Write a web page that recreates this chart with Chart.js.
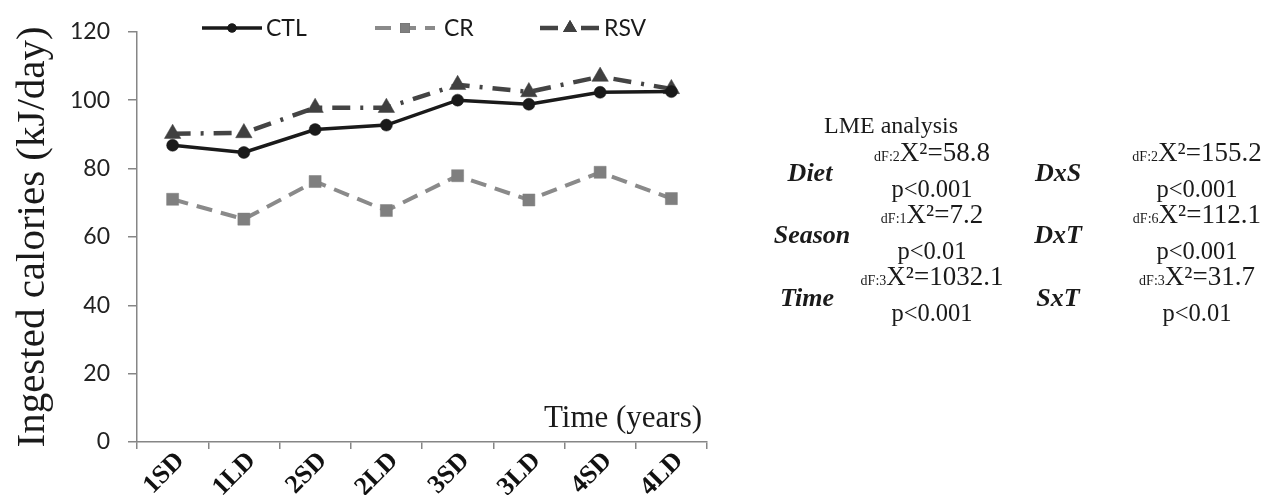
<!DOCTYPE html>
<html>
<head>
<meta charset="utf-8">
<script src="https://cdn.jsdelivr.net/npm/chart.js@4.4.1/dist/chart.umd.min.js"></script>
<style>
  body { margin: 0; background: #fff; }
  #wrap { position: relative; width: 1266px; height: 495px; }
  .txt { position: absolute; font-family: "Liberation Serif", "Times New Roman", serif; color: #1a1a1a; white-space: nowrap; transform: translate(-50%, -50%); }
  .lab { font-weight: bold; font-style: italic; font-size: 26px; }
  .val { font-size: 24.5px; text-align: center; line-height: 32px; }
  .val .top { font-size: 27px; }
  .val small { font-size: 14px; }
</style>
</head>
<body>
<div id="wrap">
  <canvas id="myChart" width="1266" height="495"></canvas>
  <div class="txt" style="left:623px; top:417px; font-size:31px;">Time (years)</div>
  <div class="txt" style="left:891px; top:125px; font-size:24px;">LME analysis</div>

  <div class="txt lab" style="left:810px; top:173px;">Diet</div>
  <div class="txt val" style="left:932px; top:170px;"><span class="top"><small>dF:2</small>X²=58.8</span><br>p&lt;0.001</div>
  <div class="txt lab" style="left:812px; top:235px;">Season</div>
  <div class="txt val" style="left:932px; top:232px;"><span class="top"><small>dF:1</small>X²=7.2</span><br>p&lt;0.01</div>
  <div class="txt lab" style="left:807px; top:298px;">Time</div>
  <div class="txt val" style="left:932px; top:294px;"><span class="top"><small>dF:3</small>X²=1032.1</span><br>p&lt;0.001</div>

  <div class="txt lab" style="left:1058px; top:173px;">DxS</div>
  <div class="txt val" style="left:1197px; top:170px;"><span class="top"><small>dF:2</small>X²=155.2</span><br>p&lt;0.001</div>
  <div class="txt lab" style="left:1058px; top:235px;">DxT</div>
  <div class="txt val" style="left:1197px; top:232px;"><span class="top"><small>dF:6</small>X²=112.1</span><br>p&lt;0.001</div>
  <div class="txt lab" style="left:1058px; top:298px;">SxT</div>
  <div class="txt val" style="left:1197px; top:294px;"><span class="top"><small>dF:3</small>X²=31.7</span><br>p&lt;0.01</div>
</div>
<script>
// data
var timePoints = ["1SD", "1LD", "2SD", "2LD", "3SD", "3LD", "4SD", "4LD"];
var ctlValues = [86.8, 84.7, 91.4, 92.7, 100.0, 98.8, 102.3, 102.5];
var crValues = [71.0, 65.2, 76.2, 67.7, 77.9, 70.8, 78.9, 71.2];
var rsvValues = [90.2, 90.4, 97.8, 97.8, 104.5, 102.4, 106.9, 103.3];
var yTicks = [0, 20, 40, 60, 80, 100, 120];

var axisGray = "#868686";

// legend: line + marker + label, like the office style legend
var legendX = [202, 375, 540];
var legendMarker = [4.5, 7, 8];
var legendPlugin = {
  id: "lineLegend",
  afterDraw: function(chart) {
    var ctx = chart.ctx;
    var y = 28;
    chart.data.datasets.forEach(function(ds, i) {
      var x0 = legendX[i];
      var len = 60;
      ctx.save();
      ctx.strokeStyle = ds.borderColor;
      ctx.lineWidth = ds.borderWidth;
      ctx.setLineDash(ds.borderDash || []);
      ctx.beginPath();
      ctx.moveTo(x0, y);
      ctx.lineTo(x0 + len, y);
      ctx.stroke();
      ctx.setLineDash([]);
      Chart.helpers.drawPoint(ctx, {
        pointStyle: ds.pointStyle,
        radius: legendMarker[i],
        borderWidth: 0
      }, x0 + len / 2, y);
      ctx.fillStyle = ds.pointBackgroundColor;
      ctx.fill();
      ctx.fillStyle = "#1a1a1a";
      ctx.font = "23px Lato";
      ctx.textBaseline = "middle";
      ctx.fillText(ds.label, x0 + len + 4 + (i == 1 ? 5 : 0), y + 1);
      ctx.restore();
    });
  }
};

var ctx = document.getElementById("myChart").getContext("2d");
var chart = new Chart(ctx, {
  type: "line",
  data: {
    labels: timePoints,
    datasets: [
      {
        label: "CTL",
        data: ctlValues,
        borderColor: "#1a1a1a",
        borderWidth: 3.5,
        pointStyle: "circle",
        pointRadius: 6,
        pointBorderWidth: 0.5,
        pointBackgroundColor: "#1a1a1a",
        pointBorderColor: "#1a1a1a",
        tension: 0
      },
      {
        label: "CR",
        data: crValues,
        borderColor: "#8a8a8a",
        borderWidth: 4,
        borderDash: [16, 9],
        pointStyle: "rect",
        pointRadius: 8.5,
        pointBorderWidth: 0.5,
        pointBackgroundColor: "#7f7f7f",
        pointBorderColor: "#7f7f7f",
        tension: 0
      },
      {
        label: "RSV",
        data: rsvValues,
        borderColor: "#444444",
        borderWidth: 4.5,
        borderDash: [18, 10, 3, 10],
        pointStyle: "triangle",
        pointRadius: 9.5,
        pointBorderWidth: 0.5,
        pointBackgroundColor: "#404040",
        pointBorderColor: "#404040",
        tension: 0
      }
    ]
  },
  options: {
    responsive: false,
    animation: false,
    layout: { padding: { top: 28, right: 559, left: 0, bottom: 0 } },
    plugins: {
      legend: { display: false },
      tooltip: { enabled: false }
    },
    scales: {
      x: {
        offset: true,
        grid: { offset: true, drawOnChartArea: false, tickLength: 7, color: axisGray, lineWidth: 1.5 },
        border: { color: axisGray, width: 1.5 },
        ticks: {
          minRotation: 45,
          maxRotation: 45,
          padding: -3,
          labelOffset: 8,
          color: "#111",
          font: { family: "Liberation Serif", size: 26, weight: "bold" }
        },
        afterFit: function(scale) { scale.height = 53; }
      },
      y: {
        min: 0,
        max: 120,
        afterBuildTicks: function(scale) {
          scale.ticks = yTicks.map(function(v) { return { value: v }; });
        },
        grid: { drawOnChartArea: false, tickLength: 9, color: axisGray, lineWidth: 1.5 },
        border: { color: axisGray, width: 1.5 },
        ticks: {
          padding: 18,
          color: "#222",
          font: { family: "Lato", size: 23 }
        },
        title: {
          display: true,
          text: "Ingested calories (kJ/day)",
          color: "#1a1a1a",
          font: { family: "Liberation Serif", size: 41 },
          padding: { top: 9, bottom: 0 }
        },
        afterFit: function(scale) { scale.width = 137; }
      }
    }
  },
  plugins: [legendPlugin]
});
</script>
</body>
</html>
